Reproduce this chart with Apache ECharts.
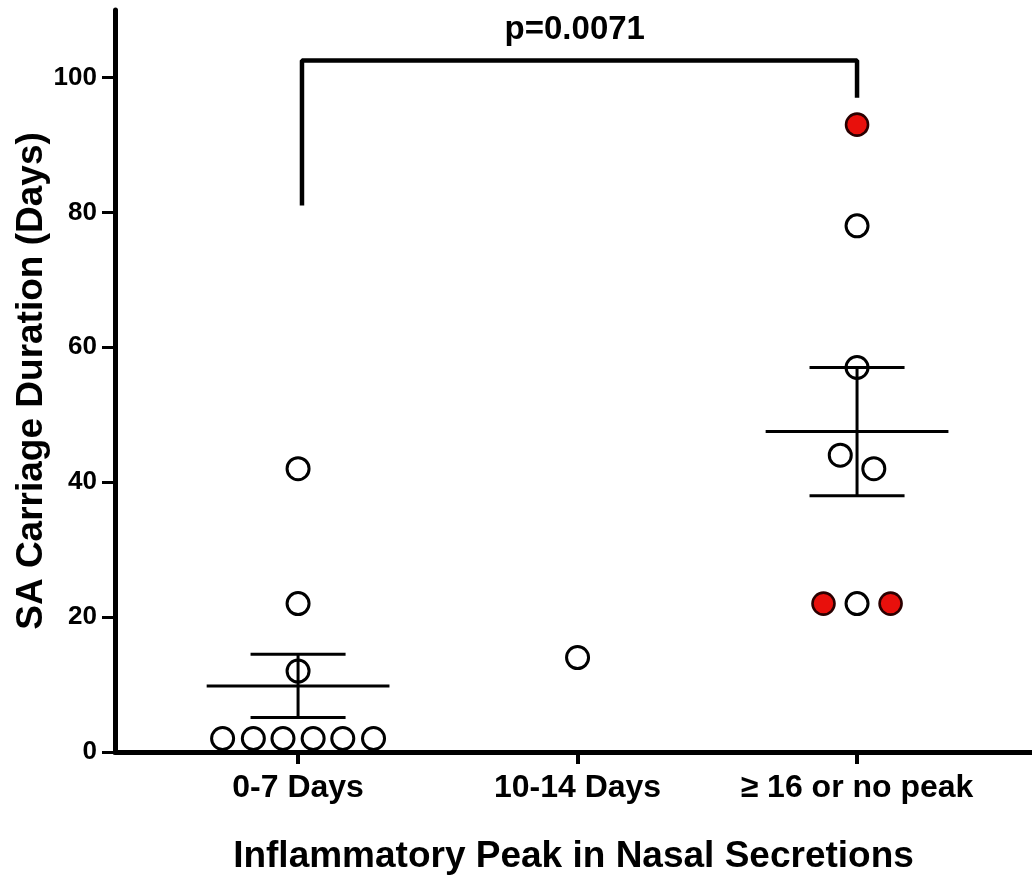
<!DOCTYPE html>
<html>
<head>
<meta charset="utf-8">
<script src="https://cdn.jsdelivr.net/npm/echarts@6/dist/echarts.min.js"></script>
<style>
  html, body { margin: 0; padding: 0; background: #fff; }
  #main { width: 1032px; height: 875px; }
</style>
</head>
<body>
<div id="main"></div>
<script>
// group names on the x axis
var groupNames = ['0-7 Days', '10-14 Days', '\u2265 16 or no peak'];
var groupPos = [1, 2, 3];
var yTicks = [0, 20, 40, 60, 80, 100];

// open (white) circles: x = group position + jitter, y = days
var openX = [1, 1, 1, 0.73, 0.84, 0.946, 1.054, 1.16, 1.27, 2, 3, 3, 2.94, 3.06, 3];
var openY = [42, 22, 12, 2, 2, 2, 2, 2, 2, 14, 78, 57, 44, 42, 22];

// red filled circles
var redX = [3, 2.88, 3.12];
var redY = [93, 22, 22];

// mean +/- SEM per group (group 2 has one point, no bars)
var statGroup = [1, 3];
var statMean = [9.78, 47.5];
var statLow = [5.1, 38.0];
var statHigh = [14.5, 57.0];

// significance bracket
var bracketX = [1.014, 1.014, 3.0, 3.0];
var bracketY = [81, 102.5, 102.5, 97];
var pText = 'p=0.0071';

var fontFam = '"Liberation Sans", Arial, Helvetica, sans-serif';

var myChart = echarts.init(document.getElementById('main'));

function zip(xs, ys) {
    var out = [];
    for (var i = 0; i < xs.length; i++) out.push([xs[i], ys[i]]);
    return out;
}

var statData = [];
for (var i = 0; i < statGroup.length; i++) {
    statData.push([statGroup[i], statMean[i], statLow[i], statHigh[i]]);
}

var option = {
    backgroundColor: '#fff',
    animation: false,
    grid: { left: 115, right: 0, top: 10, bottom: 123, outerBoundsMode: 'none', containLabel: false },
    xAxis: {
        type: 'value',
        min: 0.345,
        max: 3.626,
        splitLine: { show: false },
        axisLine: { lineStyle: { color: '#000', width: 5 } },
        axisTick: {
            show: true,
            customValues: groupPos,
            length: 12,
            lineStyle: { color: '#000', width: 4 }
        },
        axisLabel: {
            customValues: groupPos,
            margin: 20,
            color: '#000',
            fontSize: 32,
            fontWeight: 'bold',
            fontFamily: fontFam,
            formatter: function (v) { return groupNames[Math.round(v) - 1]; }
        },
        name: 'Inflammatory Peak in Nasal Secretions',
        nameLocation: 'middle',
        nameGap: 86,
        nameMoveOverlap: false,
        nameTextStyle: { color: '#000', fontSize: 37, fontWeight: 'bold', fontFamily: fontFam }
    },
    yAxis: {
        type: 'value',
        min: 0,
        max: 110,
        splitLine: { show: false },
        axisLine: { show: true, lineStyle: { color: '#000', width: 5 } },
        axisTick: {
            show: true,
            customValues: yTicks,
            length: 13,
            lineStyle: { color: '#000', width: 3 }
        },
        axisLabel: {
            customValues: yTicks,
            margin: 18,
            color: '#000',
            fontSize: 26,
            fontWeight: 'bold',
            fontFamily: fontFam
        },
        name: 'SA Carriage Duration (Days)',
        nameLocation: 'middle',
        nameGap: 65,
        nameMoveOverlap: false,
        nameTextStyle: { color: '#000', fontSize: 37, fontWeight: 'bold', fontFamily: fontFam }
    },
    series: [{
        name: 'bracket',
        type: 'line',
        data: zip(bracketX, bracketY),
        symbol: 'none',
        lineStyle: { color: '#000', width: 4.5 },
        z: 1
    }, {
        name: 'pvalue',
        type: 'scatter',
        data: [[1.99, 107.1]],
        symbolSize: 0,
        itemStyle: { opacity: 1 },
        label: {
            show: true,
            position: 'inside',
            formatter: pText,
            color: '#000',
            fontSize: 33,
            fontWeight: 'bold',
            fontFamily: fontFam
        }
    }, {
        name: 'stats',
        type: 'custom',
        data: statData,
        z: 2,
        renderItem: function (params, api) {
            var gx = api.value(0);
            var m = api.coord([gx, api.value(1)]);
            var lo = api.coord([gx, api.value(2)]);
            var hi = api.coord([gx, api.value(3)]);
            var halfMean = api.size([0.327, 0])[0];
            var halfCap = api.size([0.17, 0])[0];
            var st = { stroke: '#000', lineWidth: 3 };
            return {
                type: 'group',
                children: [
                    { type: 'line', shape: { x1: m[0] - halfMean, y1: m[1], x2: m[0] + halfMean, y2: m[1] }, style: st },
                    { type: 'line', shape: { x1: lo[0], y1: lo[1], x2: hi[0], y2: hi[1] }, style: st },
                    { type: 'line', shape: { x1: lo[0] - halfCap, y1: lo[1], x2: lo[0] + halfCap, y2: lo[1] }, style: st },
                    { type: 'line', shape: { x1: hi[0] - halfCap, y1: hi[1], x2: hi[0] + halfCap, y2: hi[1] }, style: st }
                ]
            };
        }
    }, {
        name: 'open',
        type: 'scatter',
        data: zip(openX, openY),
        symbol: 'circle',
        symbolSize: 22,
        itemStyle: { color: 'rgba(255,255,255,0)', borderColor: '#000', borderWidth: 3, opacity: 1 },
        z: 3
    }, {
        name: 'red',
        type: 'scatter',
        data: zip(redX, redY),
        symbol: 'circle',
        symbolSize: 22,
        itemStyle: { color: '#e8100c', borderColor: '#2a0000', borderWidth: 2.6, opacity: 1 },
        z: 3
    }]
};

myChart.setOption(option);
</script>
</body>
</html>
